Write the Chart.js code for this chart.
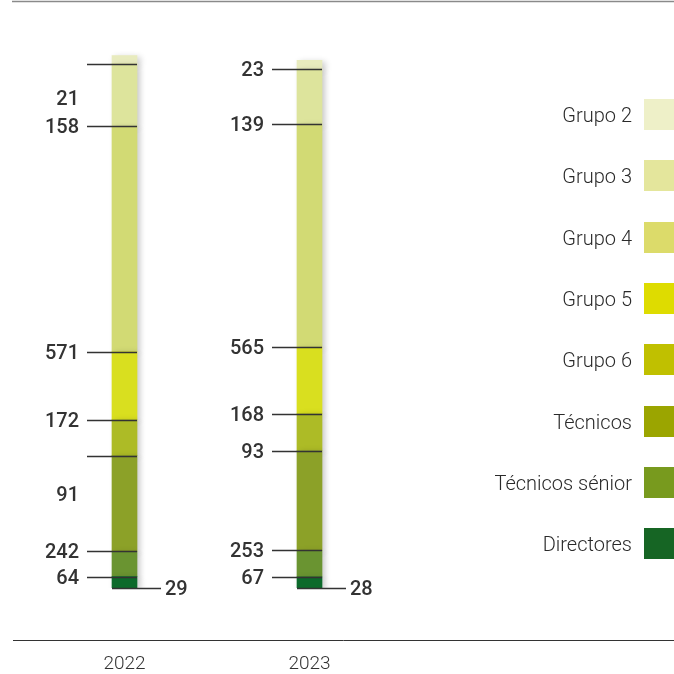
<!DOCTYPE html>
<html>
<head>
<meta charset="utf-8">
<script src="https://cdn.jsdelivr.net/npm/chart.js@4.4.0/dist/chart.umd.min.js"></script>
<style>
  html, body { margin:0; padding:0; background:#fff; }
  canvas { display:block; }
</style>
</head>
<body>
<canvas id="chart" width="674" height="674"></canvas>
<script>
// data, top of the bar first (same order as the legend)
const years = ['2022', '2023'];
const groups = ['Grupo 2', 'Grupo 3', 'Grupo 4', 'Grupo 5', 'Grupo 6', 'Técnicos', 'Técnicos sénior', 'Directores'];
const values2022 = [21, 158, 571, 172, 91, 242, 64, 29];
const values2023 = [23, 139, 565, 168, 93, 253, 67, 28];

// styles
const barColors = ['#E8EBBE', '#DDE49C', '#D2DA74', '#D9DF1F', '#ADBB26', '#8CA128', '#6A9431', '#0C6A2B'];
const legendColors = ['#EEF0C8', '#E4E69C', '#DCDB6A', '#DEDC00', '#C0C000', '#9BA500', '#789A1E', '#166524'];
// a few labels sit below their line in the original
const labelNudge = { '2022': { 'Grupo 2': 34, 'Grupo 6': 38 } };

const series = [values2022, values2023];
const ink = '#333';

// chart.js stacks dataset 0 at the bottom, so build them reversed
const datasets = [];
for (let g = groups.length - 1; g >= 0; g--) {
  datasets.push({
    label: groups[g],
    data: series.map(s => s[g]),
    backgroundColor: barColors[g],
    barThickness: 25,
    borderWidth: 0
  });
}

const shadowPlugin = {
  id: 'shadow',
  beforeDatasetsDraw(chart) {
    const ctx = chart.ctx;
    ctx.save();
    ctx.shadowColor = 'rgba(0,0,0,0.22)';
    ctx.shadowBlur = 6;
    ctx.shadowOffsetX = 3;
    ctx.shadowOffsetY = 2;
  },
  afterDatasetsDraw(chart) {
    chart.ctx.restore();
  }
};

const labelPlugin = {
  id: 'segLabels',
  afterDatasetsDraw(chart) {
    const ctx = chart.ctx;
    ctx.save();
    ctx.strokeStyle = ink;
    ctx.fillStyle = ink;
    ctx.lineWidth = 1.5;
    ctx.font = '500 20px Roboto';
    ctx.textBaseline = 'middle';
    chart.data.datasets.forEach((ds, d) => {
      const meta = chart.getDatasetMeta(d);
      meta.data.forEach((bar, i) => {
        const p = bar.getProps(['x', 'base', 'width'], true);
        const left = p.x - p.width / 2, right = p.x + p.width / 2;
        const y = Math.round(p.base) + 0.5;
        ctx.beginPath();
        if (d === 0) {
          ctx.moveTo(left, y); ctx.lineTo(right + 24, y);
        } else {
          ctx.moveTo(left - 25, y); ctx.lineTo(right, y);
        }
        ctx.stroke();
        const nudge = (labelNudge[years[i]] || {})[ds.label] || 0;
        if (d === 0) {
          ctx.textAlign = 'left';
          ctx.fillText(String(ds.data[i]), right + 28, y + 1);
        } else {
          ctx.textAlign = 'right';
          ctx.fillText(String(ds.data[i]), left - 33, y + 1 + nudge);
        }
      });
    });
    ctx.restore();
  },
  afterDraw(chart) {
    const ctx = chart.ctx;
    ctx.save();
    // frame lines
    ctx.strokeStyle = '#8a8a8a';
    ctx.lineWidth = 1.5;
    ctx.beginPath(); ctx.moveTo(12, 1.5); ctx.lineTo(674, 1.5); ctx.stroke();
    ctx.strokeStyle = ink;
    ctx.lineWidth = 1;
    ctx.beginPath(); ctx.moveTo(13, 640.5); ctx.lineTo(674, 640.5); ctx.stroke();
    // years
    ctx.fillStyle = ink;
    ctx.font = '300 19px Roboto';
    ctx.textAlign = 'center';
    ctx.textBaseline = 'middle';
    years.forEach((yr, i) => ctx.fillText(yr, chart.scales.x.getPixelForValue(i), 664));
    // legend
    ctx.textAlign = 'right';
    ctx.font = '300 20px Roboto';
    groups.forEach((g, k) => {
      const top = 99 + k * 61.3;
      ctx.fillStyle = legendColors[k];
      ctx.fillRect(644, Math.round(top), 30, 31);
      ctx.fillStyle = '#2a2a2a';
      ctx.fillText(g, 632, Math.round(top) + 18);
    });
    ctx.restore();
  }
};

new Chart(document.getElementById('chart').getContext('2d'), {
  type: 'bar',
  data: { labels: years, datasets },
  options: {
    responsive: false,
    animation: false,
    devicePixelRatio: 1,
    layout: { padding: { left: 32, right: 272, top: 20, bottom: 86 } },
    scales: {
      x: { stacked: true, display: false },
      y: { stacked: true, display: false, min: 0, max: 1438 }
    },
    plugins: { legend: { display: false }, tooltip: { enabled: false } }
  },
  plugins: [shadowPlugin, labelPlugin]
});
</script>
</body>
</html>
